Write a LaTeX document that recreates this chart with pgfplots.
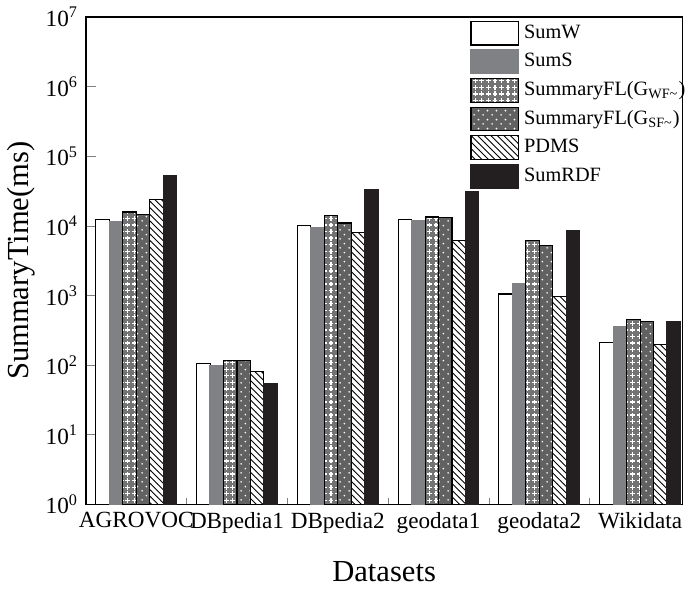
\documentclass[border=0pt]{standalone}
\usepackage{fontspec}
\setmainfont{Liberation Serif}
\usepackage{pgfplots}
\pgfplotsset{compat=1.18}
\usetikzlibrary{patterns}

\definecolor{sgray}{RGB}{128,129,133}
\definecolor{sblack}{RGB}{35,31,32}

% white plus signs (for G_WF~)
\pgfdeclarepatternformonly{plusses}{\pgfqpoint{-1pt}{-1pt}}{\pgfqpoint{4pt}{4pt}}{\pgfqpoint{3pt}{3pt}}{%
  \pgfsetlinewidth{0.6pt}%
  \pgfpathmoveto{\pgfqpoint{0.4pt}{1.5pt}}\pgfpathlineto{\pgfqpoint{2.6pt}{1.5pt}}%
  \pgfpathmoveto{\pgfqpoint{1.5pt}{0.4pt}}\pgfpathlineto{\pgfqpoint{1.5pt}{2.6pt}}%
  \pgfusepath{stroke}}
% sparse white dots (for G_SF~)
\pgfdeclarepatternformonly{sparsedots}{\pgfqpoint{0pt}{0pt}}{\pgfqpoint{4pt}{4pt}}{\pgfqpoint{4pt}{4pt}}{%
  \pgfpathcircle{\pgfqpoint{1pt}{1pt}}{0.45pt}%
  \pgfpathcircle{\pgfqpoint{3pt}{3pt}}{0.45pt}%
  \pgfusepath{fill}}

\begin{document}
\begin{tikzpicture}
\begin{axis}[
  width=273pt, height=223pt, scale only axis,
  ymode=log, log basis y=10, log origin=infty,
  ymin=1, ymax=1e7,
  xmin=-0.5, xmax=5.42,
  ybar=0pt, bar width=0.1337,
  axis line style={line width=0.7pt},
  tick align=inside, tick pos=left,
  xtick={0,1,2,3,4,5},
  xticklabels={AGROVOC,DBpedia1,DBpedia2,geodata1,geodata2,Wikidata},
  every major x tick/.append style={draw=none},
  minor xtick={0.5,1.5,2.5,3.5,4.5},
  major tick length=4.5pt, minor tick length=2.7pt,
  ytick={1,10,100,1000,10000,100000,1000000,10000000},
  yticklabel={10\textsuperscript{\pgfmathparse{int(round(\tick))}\pgfmathresult}},
  tick label style={font=\fontsize{10.6}{12}\selectfont},
  xlabel={Datasets}, ylabel={SummaryTime(ms)},
  label style={font=\fontsize{14}{16}\selectfont},
  xlabel style={yshift=-6pt},
  ylabel style={yshift=-2pt},
  legend cell align=left,
  legend style={at={(rel axis cs:0.633,1.002)}, anchor=north west, draw=none, fill=none,
    font=\fontsize{9.3}{11}\selectfont, row sep=1.8pt,
    nodes={inner sep=1pt}},
  /pgfplots/myleg/.style={legend image code/.code={\draw[##1,line width=0.5pt] (0pt,-5.4pt) rectangle (21.6pt,5.4pt);}},
]
\addplot[myleg, bar shift=-0.334, draw=black, line width=0.5pt, fill=white] coordinates
  {(0,12300) (1,105) (2,10200) (3,12300) (4,1050) (5,208)};
\addplot[myleg, bar shift=-0.2005, draw=sgray, line width=0.5pt, fill=sgray] coordinates
  {(0,11400) (1,98) (2,9500) (3,12000) (4,1490) (5,353)};
\addplot[myleg, bar shift=-0.0668, draw=black, line width=0.5pt, fill=black!55,
  postaction={pattern=plusses, pattern color=white}] coordinates
  {(0,15800) (1,118) (2,14000) (3,13400) (4,6160) (5,448)};
\addplot[myleg, bar shift=0.0668, draw=black, line width=0.5pt, fill=black!62,
  postaction={pattern=sparsedots, pattern color=white}] coordinates
  {(0,14500) (1,115) (2,11000) (3,13100) (4,5300) (5,420)};
\addplot[myleg, bar shift=0.2005, draw=black, line width=0.5pt, fill=white,
  postaction={pattern={north west lines}, pattern color=black}] coordinates
  {(0,23600) (1,82) (2,8000) (3,6200) (4,955) (5,195)};
\addplot[myleg, bar shift=0.334, draw=sblack, line width=0.5pt, fill=sblack] coordinates
  {(0,52600) (1,54) (2,33700) (3,31300) (4,8700) (5,420)};
\legend{\hspace{1.5pt}SumW, \hspace{1.5pt}SumS, \hspace{1.5pt}SummaryFL(G\textsubscript{WF\textasciitilde}), \hspace{1.5pt}SummaryFL(G\textsubscript{SF\textasciitilde}), \hspace{1.5pt}PDMS, \hspace{1.5pt}SumRDF}
\end{axis}
\end{tikzpicture}
\end{document}
